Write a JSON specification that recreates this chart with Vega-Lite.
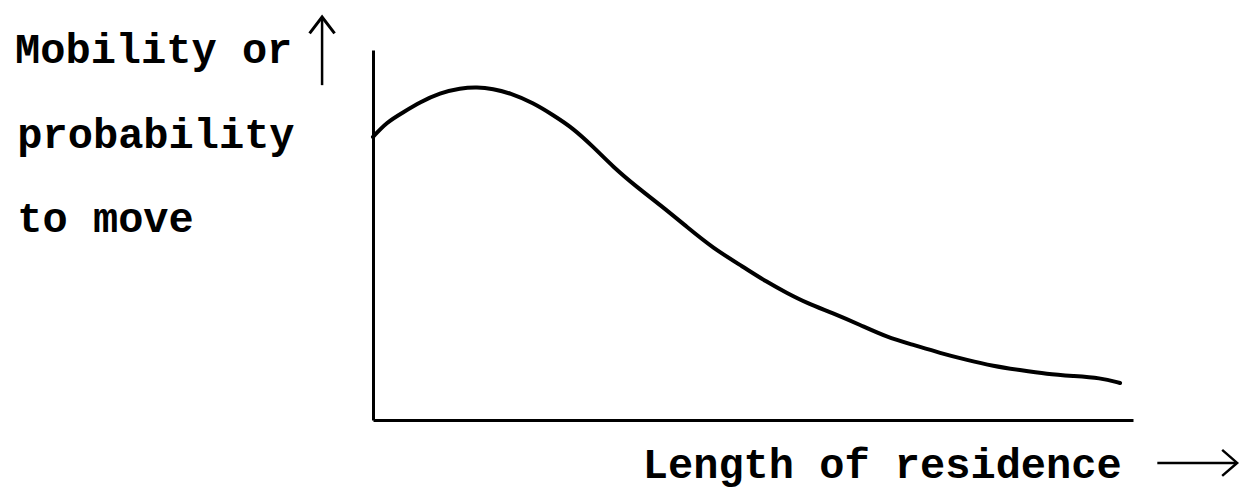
{
  "$schema": "https://vega.github.io/schema/vega-lite/v6.json",
  "width": 760,
  "height": 370,
  "autosize": "none",
  "padding": {"left": 373, "top": 50, "right": 108, "bottom": 70},
  "background": "white",
  "config": {
    "view": {"stroke": null},
    "axis": {"labels": false, "ticks": false, "grid": false, "domainColor": "black", "domainWidth": 3}
  },
  "datasets": {
    "curve": [
      {"t": 0, "m": 76.5}, {"t": 1.8, "m": 80.5}, {"t": 4.0, "m": 83.2}, {"t": 6.2, "m": 85.9},
      {"t": 8.8, "m": 88.4}, {"t": 11.5, "m": 89.7}, {"t": 13.7, "m": 90.0}, {"t": 15.8, "m": 89.5},
      {"t": 18.0, "m": 88.4}, {"t": 21.1, "m": 85.7}, {"t": 23.7, "m": 82.4}, {"t": 26.3, "m": 78.9},
      {"t": 29.0, "m": 73.8}, {"t": 31.6, "m": 68.4}, {"t": 34.7, "m": 63.0}, {"t": 37.8, "m": 58.1},
      {"t": 41.3, "m": 52.2}, {"t": 44.7, "m": 46.5}, {"t": 48.7, "m": 41.4}, {"t": 51.8, "m": 37.3},
      {"t": 54.5, "m": 34.3}, {"t": 57.1, "m": 31.6}, {"t": 60.5, "m": 28.9}, {"t": 64.1, "m": 25.7},
      {"t": 67.6, "m": 22.4}, {"t": 71.1, "m": 20.3}, {"t": 74.6, "m": 18.1}, {"t": 78.2, "m": 16.2},
      {"t": 81.6, "m": 14.6}, {"t": 85.1, "m": 13.5}, {"t": 88.7, "m": 12.4}, {"t": 92.1, "m": 11.9},
      {"t": 95.7, "m": 11.4}, {"t": 98.3, "m": 10.0}
    ],
    "labels": [
      {"label": "Mobility or", "x": -47.1, "y": 96.5},
      {"label": "probability", "x": -46.8, "y": 73.5},
      {"label": "to move", "x": -46.8, "y": 50.8},
      {"label": "Length of residence", "x": 35.5, "y": -15.7}
    ],
    "shafts": [
      {"x": -6.7, "y": 90.5, "x2": -6.7, "y2": 108.4},
      {"x": 103.2, "y": -11.6, "x2": 113.5, "y2": -11.6}
    ],
    "heads": [
      {"x": -6.7, "y": 108.9, "dir": "up"},
      {"x": 113.7, "y": -11.6, "dir": "right"}
    ]
  },
  "layer": [
    {
      "data": {"name": "curve"},
      "mark": {"type": "line", "color": "black", "strokeWidth": 4, "interpolate": "basis", "strokeCap": "round"},
      "encoding": {
        "x": {"field": "t", "type": "quantitative", "scale": {"domain": [0, 100], "nice": false, "zero": false}, "title": null},
        "y": {"field": "m", "type": "quantitative", "scale": {"domain": [0, 100], "nice": false, "zero": false}, "title": null}
      }
    },
    {
      "data": {"name": "labels"},
      "mark": {"type": "text", "align": "left", "baseline": "alphabetic", "font": "Liberation Mono", "fontWeight": "bold", "fontSize": 42, "color": "black"},
      "encoding": {
        "x": {"field": "x", "type": "quantitative", "title": null},
        "y": {"field": "y", "type": "quantitative", "title": null},
        "text": {"field": "label"}
      }
    },
    {
      "data": {"name": "shafts"},
      "mark": {"type": "rule", "color": "black", "strokeWidth": 2.5},
      "encoding": {
        "x": {"field": "x", "type": "quantitative", "title": null},
        "y": {"field": "y", "type": "quantitative", "title": null},
        "x2": {"field": "x2"},
        "y2": {"field": "y2"}
      }
    },
    {
      "data": {"name": "heads"},
      "transform": [{"filter": "datum.dir === 'up'"}],
      "mark": {"type": "point", "shape": "M-1,1.3L0,0L1,1.3", "size": 625, "filled": false, "stroke": "black", "strokeWidth": 3, "opacity": 1},
      "encoding": {
        "x": {"field": "x", "type": "quantitative", "title": null},
        "y": {"field": "y", "type": "quantitative", "title": null}
      }
    },
    {
      "data": {"name": "heads"},
      "transform": [{"filter": "datum.dir === 'right'"}],
      "mark": {"type": "point", "shape": "M-1.15,-1L0,0L-1.15,1", "size": 676, "filled": false, "stroke": "black", "strokeWidth": 2.5, "opacity": 1},
      "encoding": {
        "x": {"field": "x", "type": "quantitative", "title": null},
        "y": {"field": "y", "type": "quantitative", "title": null}
      }
    }
  ]
}
